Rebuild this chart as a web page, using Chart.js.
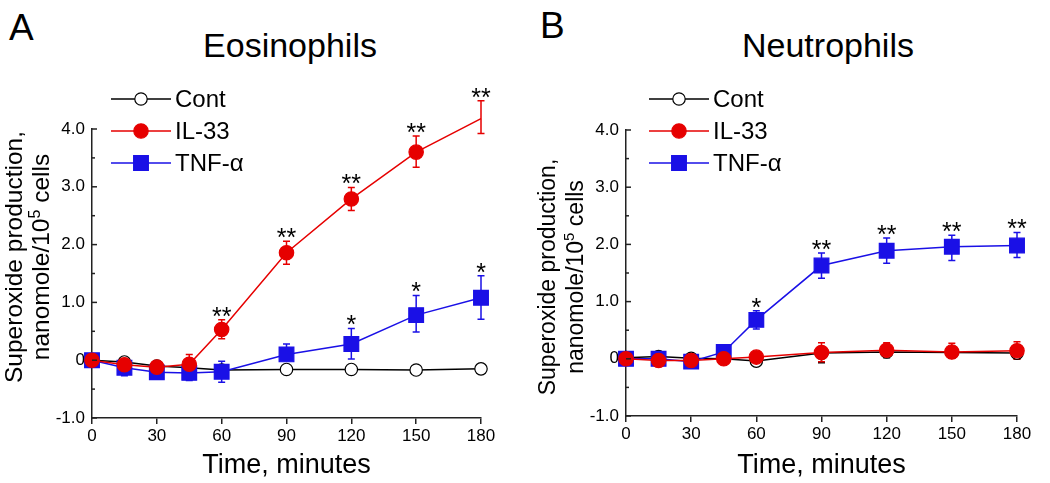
<!DOCTYPE html>
<html>
<head>
<meta charset="utf-8">
<script src="https://cdn.jsdelivr.net/npm/chart.js@4.4.1/dist/chart.umd.min.js"></script>
<style>
  body { margin: 0; background: #fff; width: 1050px; height: 483px; overflow: hidden; position: relative;
         font-family: 'Liberation Sans', Arial, sans-serif; }
  canvas { position: absolute; top: 0; }
  .lbl { position: absolute; line-height: 1; color: #000; white-space: nowrap; }
</style>
</head>
<body>
<div class="lbl" style="left:9px;top:9px;font-size:37px">A</div>
<div class="lbl" style="left:540px;top:7px;font-size:37px">B</div>
<div class="lbl" style="left:190px;top:28px;width:200px;text-align:center;font-size:34px">Eosinophils</div>
<div class="lbl" style="left:728px;top:28px;width:200px;text-align:center;font-size:34px">Neutrophils</div>
<canvas id="chartA" width="525" height="483" style="left:0"></canvas>
<canvas id="chartB" width="525" height="483" style="left:525px"></canvas>
<script>
// ==========================================
// DATA
// ==========================================
const times = [0, 15, 30, 45, 60, 90, 120, 150, 180];
const seriesLabels = ['Cont', 'IL-33', 'TNF-\u03b1'];
const xTickValues = [0, 30, 60, 90, 120, 150, 180];
const yMajorValues = [-1, 0, 1, 2, 3, 4];
const yMajorLabels = ['-1.0', '0', '1.0', '2.0', '3.0', '4.0'];

// Panel A - Eosinophils
const contA = [0, -0.03, -0.10, -0.13, -0.17, -0.16, -0.16, -0.17, -0.15];
const contA_errUp = [0.02, 0.02, 0.02, 0.02, 0.02, 0.03, 0.03, 0.03, 0.03];
const contA_errDown = [0.02, 0.02, 0.02, 0.02, 0.02, 0.03, 0.03, 0.03, 0.03];
const il33A = [0, -0.08, -0.12, -0.07, 0.53, 1.86, 2.79, 3.60, 4.18];
const il33A_errUp = [0.02, 0.05, 0.05, 0.17, 0.17, 0.20, 0.20, 0.28, 0.31];
const il33A_errDown = [0.02, 0.05, 0.05, 0.10, 0.16, 0.20, 0.20, 0.26, 0.26];
const tnfA = [0, -0.13, -0.21, -0.22, -0.20, 0.10, 0.28, 0.78, 1.08];
const tnfA_errUp = [0.02, 0.05, 0.05, 0.07, 0.18, 0.18, 0.27, 0.34, 0.38];
const tnfA_errDown = [0.02, 0.14, 0.05, 0.13, 0.18, 0.10, 0.26, 0.29, 0.37];
const il33A_stars = ['', '', '', '', '**', '**', '**', '**', '**'];
const tnfA_stars = ['', '', '', '', '', '', '*', '*', '*'];

// Panel B - Neutrophils
const contB = [0.02, 0.04, 0.01, 0.00, -0.04, 0.10, 0.12, 0.11, 0.10];
const contB_errUp = [0.02, 0.02, 0.02, 0.02, 0.02, 0.10, 0.10, 0.10, 0.10];
const contB_errDown = [0.02, 0.02, 0.02, 0.02, 0.02, 0.17, 0.10, 0.10, 0.10];
const il33B = [0, -0.03, -0.03, 0.00, 0.03, 0.11, 0.15, 0.12, 0.14];
const il33B_errUp = [0.02, 0.02, 0.02, 0.02, 0.03, 0.17, 0.13, 0.15, 0.16];
const il33B_errDown = [0.02, 0.02, 0.02, 0.02, 0.03, 0.16, 0.10, 0.10, 0.15];
const tnfB = [0, 0.00, -0.05, 0.12, 0.68, 1.63, 1.89, 1.96, 1.98];
const tnfB_errUp = [0.02, 0.03, 0.03, 0.03, 0.16, 0.22, 0.22, 0.20, 0.23];
const tnfB_errDown = [0.02, 0.03, 0.03, 0.03, 0.16, 0.22, 0.22, 0.24, 0.21];
const tnfB_stars = ['', '', '', '', '*', '**', '**', '**', '**'];
const noStars = ['', '', '', '', '', '', '', '', ''];

// ==========================================
// STYLES
// ==========================================
const FONT = "'Liberation Sans', Arial, sans-serif";
const RED = '#e60000';
const BLUE = '#1a10e6';

const styles = {
  cont: { color: '#000', fill: '#fff', pointStyle: 'circle', radius: 6.2, order: 2 },
  il33: { color: RED, fill: RED, pointStyle: 'circle', radius: 7.2, order: 0 },
  tnf:  { color: BLUE, fill: BLUE, pointStyle: 'rect', radius: 10.4, order: 1 }
};

function buildDataset(label, values, errUp, errDown, stars, st) {
  return {
    label,
    data: times.map((t, i) => ({ x: t, y: values[i] })),
    errUp, errDown, stars,
    borderColor: st.color,
    borderWidth: 1.5,
    pointStyle: st.pointStyle,
    pointRadius: st.radius,
    pointBackgroundColor: st.fill,
    pointBorderColor: st.color,
    pointBorderWidth: 1.2,
    tension: 0,
    clip: false,
    order: st.order
  };
}

// ==========================================
// ERROR BARS, STARS, INNER TICKS, LEGEND, Y TITLE
// ==========================================
const decor = {
  id: 'decor',
  beforeDatasetsDraw(chart) {
    const { ctx, scales: { x, y } } = chart;
    ctx.save();
    ctx.lineWidth = 1.5;
    chart.data.datasets.forEach(ds => {
      ctx.strokeStyle = ds.borderColor;
      ds.data.forEach((p, i) => {
        const px = x.getPixelForValue(p.x);
        const top = y.getPixelForValue(p.y + ds.errUp[i]);
        const bot = y.getPixelForValue(p.y - ds.errDown[i]);
        ctx.beginPath();
        ctx.moveTo(px, top); ctx.lineTo(px, bot);
        ctx.moveTo(px - 3.5, top); ctx.lineTo(px + 3.5, top);
        ctx.moveTo(px - 3.5, bot); ctx.lineTo(px + 3.5, bot);
        ctx.stroke();
      });
    });
    ctx.restore();
  },
  afterDatasetsDraw(chart) {
    const { ctx, scales: { x, y } } = chart;
    ctx.save();
    ctx.fillStyle = '#000';
    ctx.font = '25px ' + FONT;
    ctx.textAlign = 'center';
    ctx.textBaseline = 'alphabetic';
    chart.data.datasets.forEach(ds => {
      ds.data.forEach((p, i) => {
        if (!ds.stars[i]) return;
        const px = x.getPixelForValue(p.x);
        const cap = y.getPixelForValue(p.y + ds.errUp[i]);
        ctx.fillText(ds.stars[i], px, cap + 5);
      });
    });
    ctx.restore();
  },
  afterDraw(chart, args, opts) {
    const { ctx, scales: { y } } = chart;
    const area = chart.chartArea;
    ctx.save();

    // inward y ticks, long at labelled values
    ctx.strokeStyle = '#222';
    ctx.lineWidth = 1.5;
    y.ticks.forEach(t => {
      const py = y.getPixelForValue(t.value);
      const len = yMajorValues.includes(t.value) ? 5 : 3;
      ctx.beginPath();
      ctx.moveTo(area.left, py); ctx.lineTo(area.left + len, py);
      ctx.stroke();
    });

    // legend: line with marker in the middle
    const L = opts.legend;
    ctx.font = '24px ' + FONT;
    ctx.textAlign = 'left';
    ctx.textBaseline = 'middle';
    chart.data.datasets.forEach((ds, i) => {
      const ry = L.y0 + i * L.dy;
      ctx.strokeStyle = ds.borderColor;
      ctx.lineWidth = 1.5;
      ctx.beginPath();
      ctx.moveTo(L.x0, ry); ctx.lineTo(L.x1, ry);
      ctx.stroke();
      const mx = (L.x0 + L.x1) / 2;
      ctx.fillStyle = ds.pointBackgroundColor;
      ctx.strokeStyle = ds.pointBorderColor;
      ctx.lineWidth = 1.2;
      ctx.beginPath();
      if (ds.pointStyle === 'rect') {
        const s = ds.pointRadius * Math.SQRT1_2;
        ctx.rect(mx - s, ry - s, 2 * s, 2 * s);
      } else {
        ctx.arc(mx, ry, ds.pointRadius, 0, Math.PI * 2);
      }
      ctx.fill();
      ctx.stroke();
      ctx.fillStyle = '#000';
      ctx.fillText(ds.label, L.x1 + 4, ry + 1);
    });

    // rotated two-line y title with superscript
    const T = opts.yTitle;
    ctx.fillStyle = '#000';
    ctx.textBaseline = 'alphabetic';
    ctx.translate(T.x1, T.cy);
    ctx.rotate(-Math.PI / 2);
    ctx.textAlign = 'center';
    ctx.font = T.size + 'px ' + FONT;
    ctx.fillText('Superoxide production,', 0, 0);
    ctx.restore();

    ctx.save();
    ctx.fillStyle = '#000';
    ctx.textBaseline = 'alphabetic';
    ctx.textAlign = 'left';
    ctx.translate(T.x2, T.cy);
    ctx.rotate(-Math.PI / 2);
    const big = T.size + 'px ' + FONT;
    const small = Math.round(T.size * 0.65) + 'px ' + FONT;
    const parts = [['nanomole/10', big, 0], ['5', small, -T.size * 0.38], [' cells', big, 0]];
    let total = 0;
    parts.forEach(p => { ctx.font = p[1]; total += ctx.measureText(p[0]).width; });
    let cx = -total / 2;
    parts.forEach(p => {
      ctx.font = p[1];
      ctx.fillText(p[0], cx, p[2]);
      cx += ctx.measureText(p[0]).width;
    });
    ctx.restore();
  }
};

// ==========================================
// PANEL FACTORY
// ==========================================
function makePanel(id, datasets, lay) {
  return new Chart(document.getElementById(id), {
    type: 'line',
    data: { datasets },
    plugins: [decor],
    options: {
      responsive: false,
      animation: false,
      events: [],
      layout: { padding: { top: lay.top, right: lay.right, left: 0, bottom: 0 } },
      plugins: {
        legend: { display: false },
        tooltip: { enabled: false },
        decor: { legend: lay.legend, yTitle: lay.yTitle }
      },
      scales: {
        x: {
          type: 'linear', min: 0, max: 180,
          afterBuildTicks: s => { s.ticks = xTickValues.map(v => ({ value: v })); },
          afterFit: s => { s.height = lay.xHeight; },
          grid: { display: true, drawOnChartArea: false, drawTicks: true, tickLength: 6, color: '#222', lineWidth: 1.5 },
          border: { display: true, color: '#222', width: 1.5 },
          ticks: { padding: 2, color: '#000', font: { family: FONT, size: 17 }, maxRotation: 0 },
          title: { display: true, text: 'Time, minutes', color: '#000', font: { family: FONT, size: 27 }, padding: { top: 0, bottom: 1 } }
        },
        y: {
          type: 'linear', min: -1, max: 4,
          afterFit: s => { s.width = lay.yWidth; },
          grid: { display: true, drawOnChartArea: false, drawTicks: false },
          border: { display: true, color: '#222', width: 1.5 },
          ticks: {
            stepSize: 0.5, autoSkip: false, padding: 7, color: '#000',
            font: { family: FONT, size: 17 },
            callback: v => {
              const k = yMajorValues.indexOf(v);
              return k >= 0 ? yMajorLabels[k] : '';
            }
          }
        }
      }
    }
  });
}

makePanel('chartA', [
  buildDataset(seriesLabels[0], contA, contA_errUp, contA_errDown, noStars, styles.cont),
  buildDataset(seriesLabels[1], il33A, il33A_errUp, il33A_errDown, il33A_stars, styles.il33),
  buildDataset(seriesLabels[2], tnfA, tnfA_errUp, tnfA_errDown, tnfA_stars, styles.tnf)
], {
  top: 129, right: 44, yWidth: 92, xHeight: 65,
  legend: { x0: 111, x1: 171, y0: 99, dy: 32 },
  yTitle: { size: 24.5, x1: 22, x2: 49, cy: 257 }
});

makePanel('chartB', [
  buildDataset(seriesLabels[0], contB, contB_errUp, contB_errDown, noStars, styles.cont),
  buildDataset(seriesLabels[1], il33B, il33B_errUp, il33B_errDown, noStars, styles.il33),
  buildDataset(seriesLabels[2], tnfB, tnfB_errUp, tnfB_errDown, tnfB_stars, styles.tnf)
], {
  top: 130, right: 33, yWidth: 101, xHeight: 67,
  legend: { x0: 124, x1: 184, y0: 99, dy: 32 },
  yTitle: { size: 23, x1: 30, x2: 58, cy: 277 }
});
</script>
</body>
</html>
